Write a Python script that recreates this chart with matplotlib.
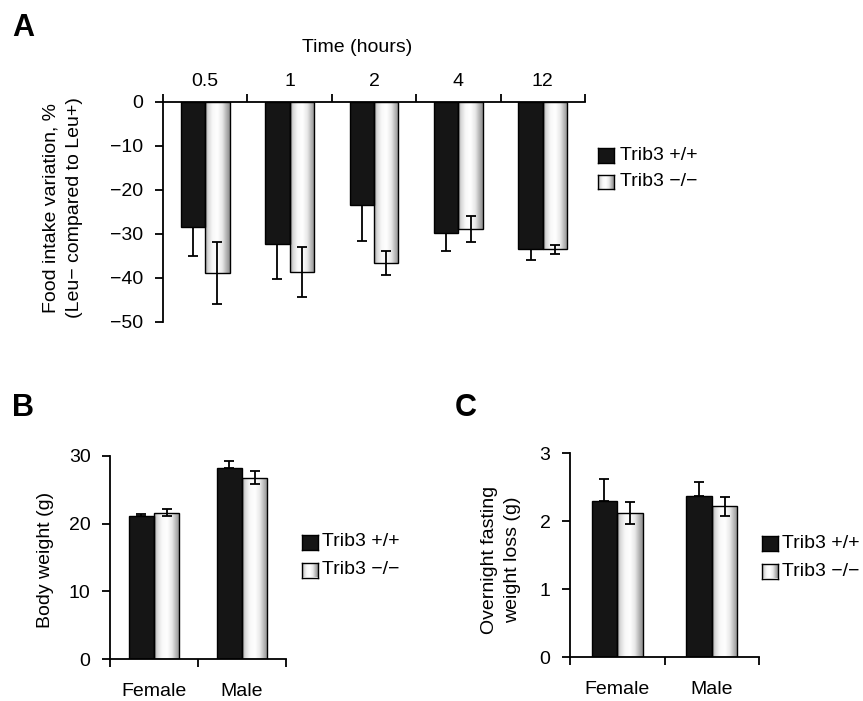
import numpy as np
import matplotlib
matplotlib.use("Agg")
import matplotlib.pyplot as plt
from matplotlib.colors import LinearSegmentedColormap

plt.rcParams['font.family'] = ['Liberation Sans', 'DejaVu Sans']
plt.rcParams['font.size'] = 14

W, H = 863, 701

# --- data ---
legend_labels = ['Trib3 +/+', 'Trib3 \u2212/\u2212']

times = ['0.5', '1', '2', '4', '12']
intake_wt = [-28.5, -32.3, -23.3, -29.8, -33.3]
intake_wt_err = [6.4, 8.0, 8.4, 4.0, 2.6]
intake_ko = [-38.9, -38.6, -36.6, -28.9, -33.5]
intake_ko_err = [7.1, 5.7, 2.7, 3.0, 1.1]

sexes = ['Female', 'Male']
bw_wt = [21.1, 28.3]
bw_wt_err = [0.3, 0.9]
bw_ko = [21.6, 26.8]
bw_ko_err = [0.5, 1.0]

loss_wt = [2.30, 2.37]
loss_wt_err = [0.32, 0.21]
loss_ko = [2.12, 2.22]
loss_ko_err = [0.16, 0.14]

BLACK = '#151515'
shade = LinearSegmentedColormap.from_list('shade', [
    (0.0, '#a0a0a0'), (0.12, '#d8d8d8'), (0.3, '#f8f8f8'), (0.5, '#ffffff'),
    (0.7, '#e8e8e8'), (0.88, '#b0b0b0'), (1.0, '#909090')])
grad = np.linspace(0, 1, 64).reshape(1, -1)


def px_axes(fig, left, top, right, bottom):
  # pixel box -> figure axes
  return fig.add_axes([left / W, 1 - bottom / H, (right - left) / W, (bottom - top) / H])


def shaded_bars(ax, bars):
  for p in bars:
    x, y, w, h = p.get_x(), p.get_y(), p.get_width(), p.get_height()
    im = ax.imshow(grad, extent=[x, x + w, y, y + h], aspect='auto', cmap=shade,
                   interpolation='bicubic', zorder=1.5)
    im.set_clip_path(p)


def draw_groups(ax, wt, wt_err, ko, ko_err, width):
  x = np.arange(len(wt)) + 0.5
  ekw = dict(elinewidth=1.3, capthick=1.3, capsize=3.5, ecolor='black')
  # black bars: only the outer half of the error bar is visible
  zeros = np.zeros(len(wt))
  neg = np.array(wt) < 0
  wt_yerr = [np.where(neg, wt_err, zeros), np.where(neg, zeros, wt_err)]
  ax.bar(x - width / 2, wt, width, color=BLACK, edgecolor='black', linewidth=1.0, zorder=2)
  ax.errorbar(x - width / 2, wt, yerr=wt_yerr, fmt='none', zorder=1.8, **ekw)
  kb = ax.bar(x + width / 2, ko, width, facecolor='none', edgecolor='black', linewidth=1.0, zorder=2)
  shaded_bars(ax, kb)
  ax.errorbar(x + width / 2, ko, yerr=ko_err, fmt='none', zorder=3, **ekw)
  ax.set_xlim(0, len(wt))


def style_axes(ax, labels, top=False, label_pad=17):
  n = len(labels)
  for s in ax.spines.values():
    s.set_linewidth(1.3)
  ax.spines['right'].set_visible(False)
  ax.spines['bottom' if top else 'top'].set_visible(False)
  if top:
    ax.xaxis.tick_top()
  ax.set_xticks(np.arange(n + 1))
  ax.set_xticklabels([])
  ax.set_xticks(np.arange(n) + 0.5, minor=True)
  ax.set_xticklabels(labels, minor=True)
  ax.tick_params(axis='x', which='major', length=6, width=1.3, direction='out')
  ax.tick_params(axis='x', which='minor', length=0, pad=label_pad)
  ax.tick_params(axis='y', length=6, width=1.3, direction='out', pad=8)


def draw_legend(fig, left, rows, text_x):
  for i, yc in enumerate(rows):
    sw = px_axes(fig, left, yc - 7.5, left + 16, yc + 7.5)
    if i == 0:
      sw.set_facecolor(BLACK)
    else:
      sw.imshow(grad, aspect='auto', cmap=shade, interpolation='bicubic', extent=[0, 1, 0, 1])
    sw.set_xticks([])
    sw.set_yticks([])
    for s in sw.spines.values():
      s.set_linewidth(1.0)
    fig.text(text_x / W, 1 - yc / H, legend_labels[i], ha='left', va='center')


fig = plt.figure(figsize=(W / 100, H / 100), dpi=100)

# --- A ---
axA = px_axes(fig, 163, 102, 585, 322)
draw_groups(axA, intake_wt, intake_wt_err, intake_ko, intake_ko_err, 0.29)
axA.set_ylim(-50, 0)
axA.set_yticks([0, -10, -20, -30, -40, -50])
style_axes(axA, times, top=True, label_pad=9)
fig.text(357 / W, 1 - 48 / H, 'Time (hours)', ha='center', va='center')
fig.text(63 / W, 1 - 208 / H, 'Food intake variation, %\n(Leu\u2212 compared to Leu+)',
         rotation=90, ha='center', va='center', multialignment='center', linespacing=1.5)
draw_legend(fig, 598, [155, 182], 620)

# --- B ---
axB = px_axes(fig, 110, 456, 286, 659)
draw_groups(axB, bw_wt, bw_wt_err, bw_ko, bw_ko_err, 0.285)
axB.set_ylim(0, 30)
axB.set_yticks([0, 10, 20, 30])
style_axes(axB, sexes)
fig.text(45 / W, 1 - 560 / H, 'Body weight (g)', rotation=90, ha='center', va='center')
draw_legend(fig, 302, [542, 570], 322)

# --- C ---
axC = px_axes(fig, 570, 453, 759, 657)
draw_groups(axC, loss_wt, loss_wt_err, loss_ko, loss_ko_err, 0.27)
axC.set_ylim(0, 3)
axC.set_yticks([0, 1, 2, 3])
style_axes(axC, sexes)
fig.text(501 / W, 1 - 560 / H, 'Overnight fasting\nweight loss (g)', rotation=90,
         ha='center', va='center', multialignment='center', linespacing=1.5)
draw_legend(fig, 762, [543, 571], 782)

# panel letters
for lab, x, y in [('A', 12, 13), ('B', 12, 393), ('C', 455, 393)]:
  fig.text(x / W, 1 - y / H, lab, ha='left', va='top', fontsize=22, fontweight='bold')

fig.savefig('out.png', dpi=100)
